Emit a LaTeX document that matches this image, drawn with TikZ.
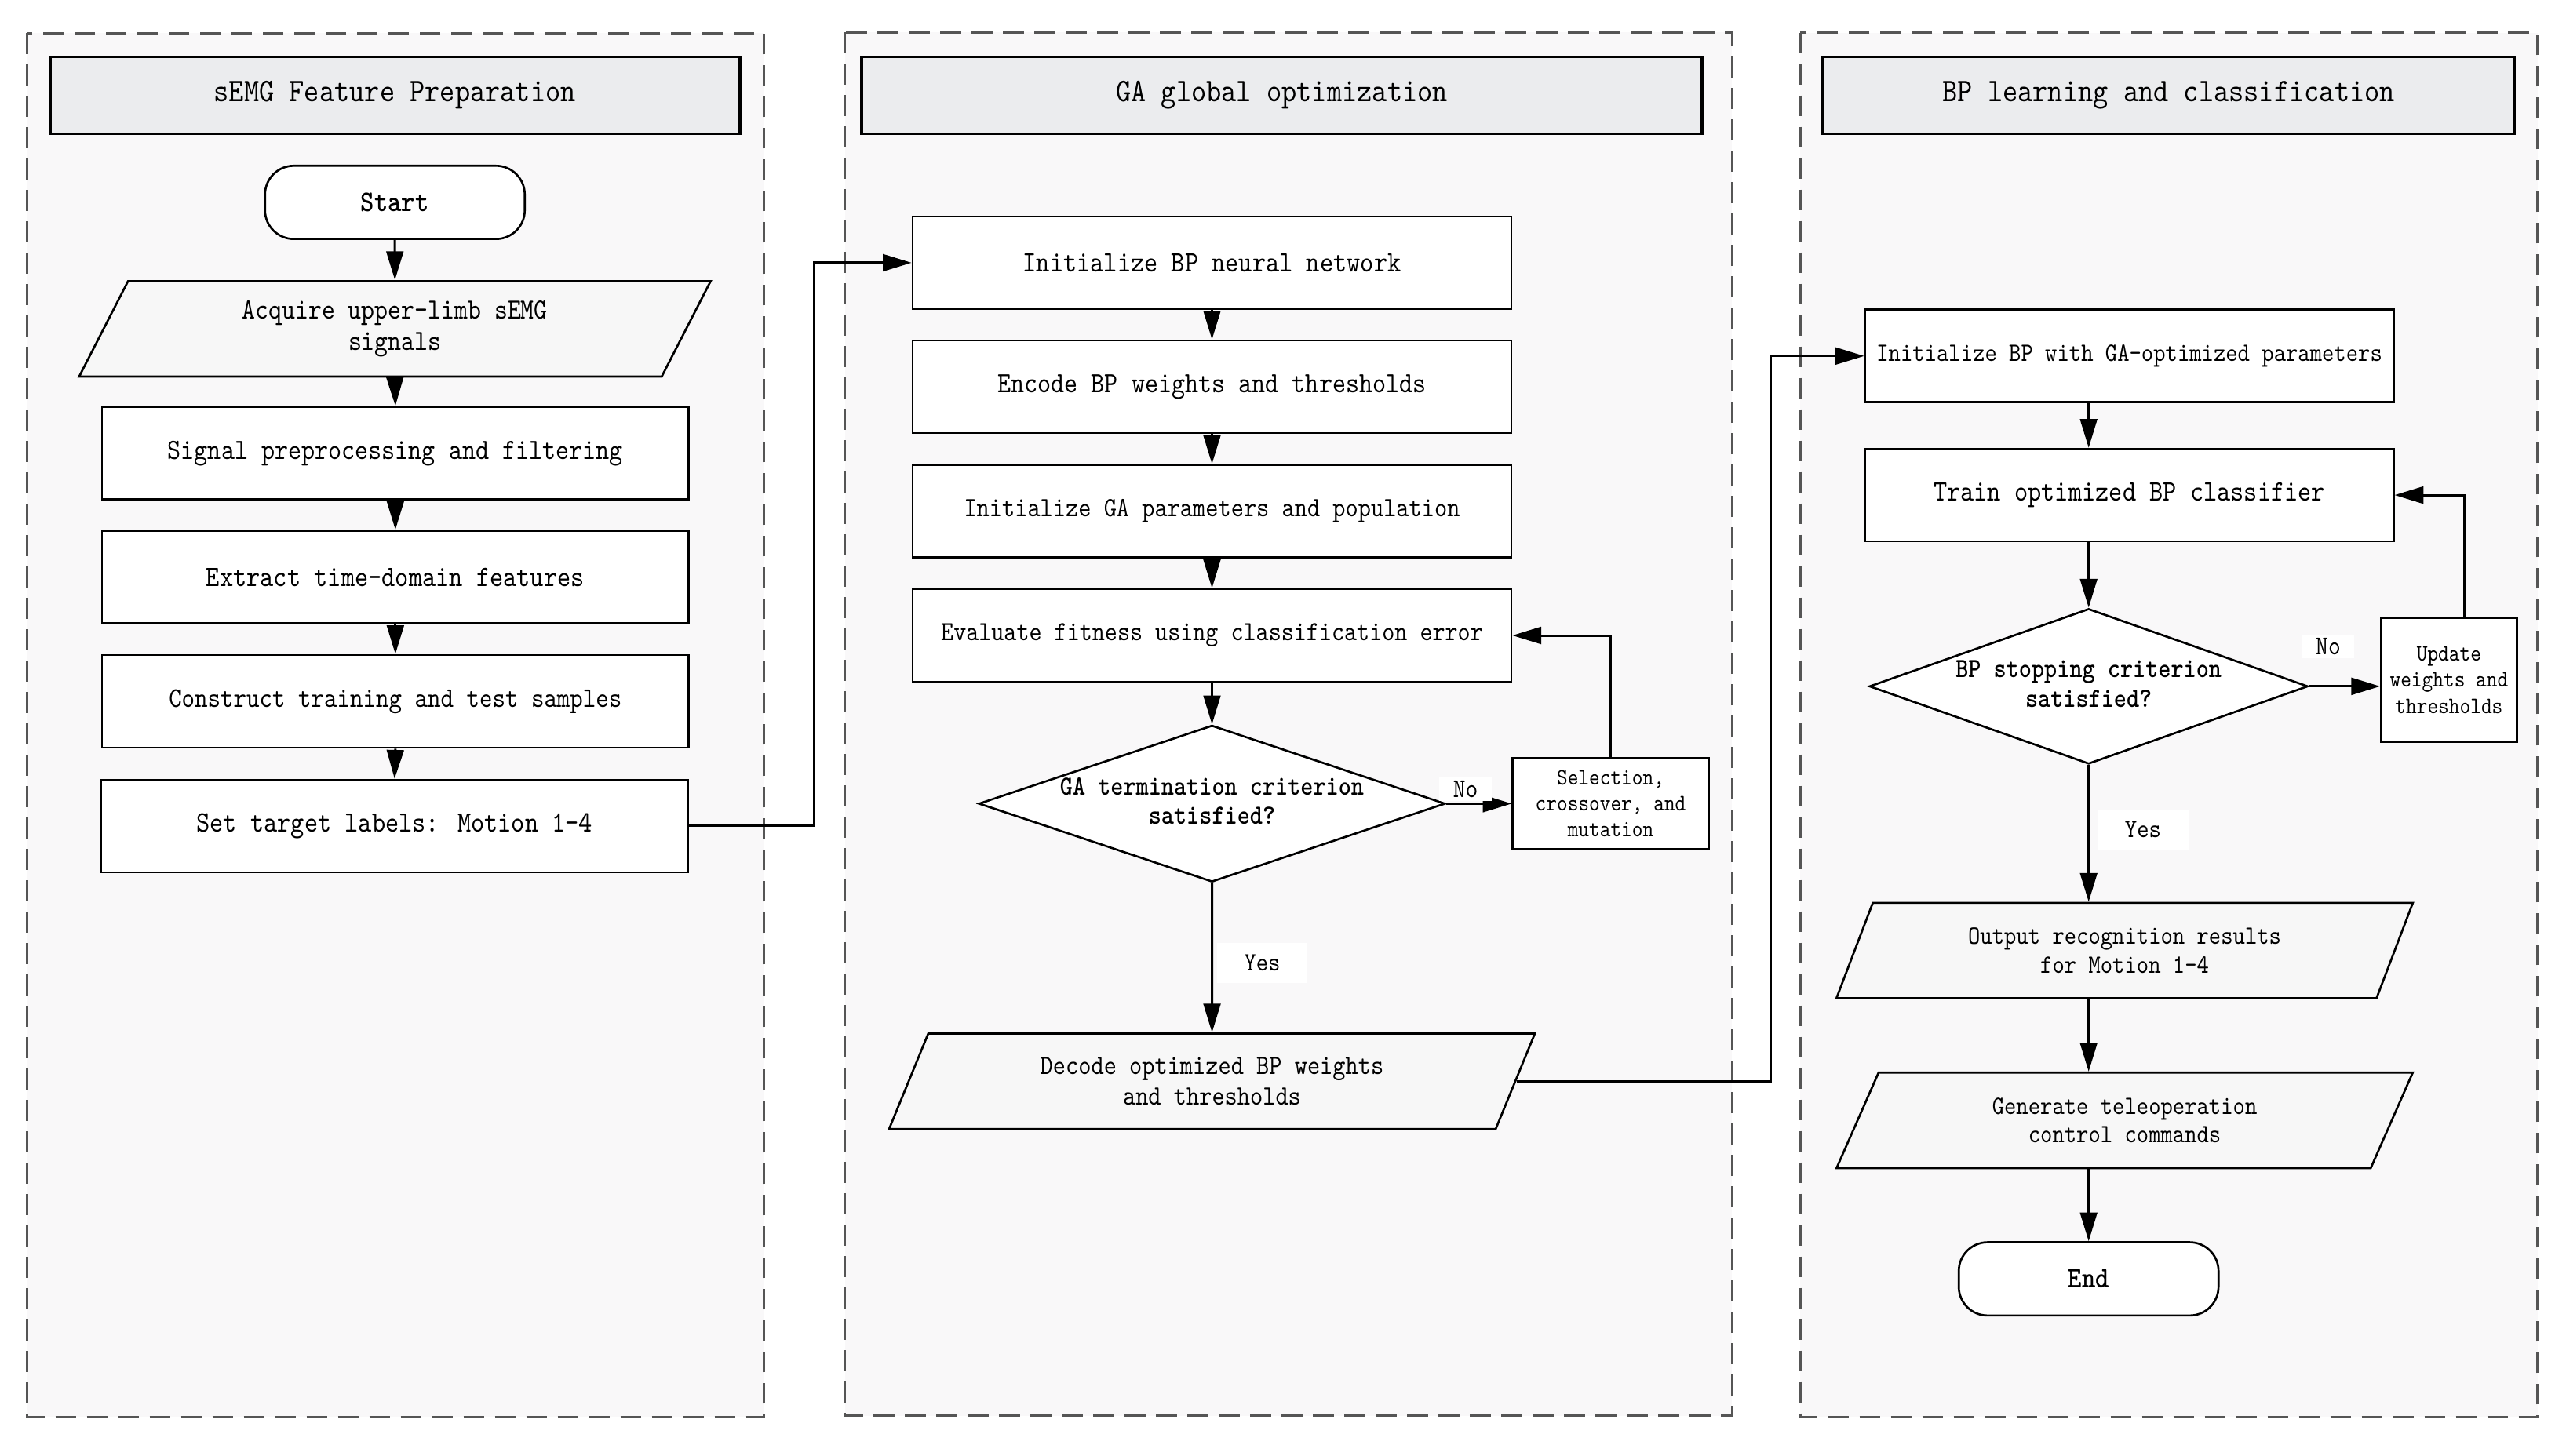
\documentclass[tikz,border=0pt]{standalone}
\usepackage{fontspec}
\setmainfont{lmmono10-regular.otf}[BoldFont=lmmonolt10-bold.otf, FakeStretch=0.87, Scale=0.9419]
\usetikzlibrary{shapes.geometric,arrows.meta,calc}
\definecolor{panelfill}{HTML}{F9F8F9}
\definecolor{headfill}{HTML}{EBECEE}
\definecolor{parafill}{HTML}{F7F7F7}
\definecolor{dashgray}{HTML}{555555}
\newcommand{\setfs}[2]{\fontsize{#1pt}{#2pt}\selectfont}
\tikzset{
  panelbox/.style={draw=dashgray, fill=panelfill, line width=0.9pt, dash pattern=on 8pt off 4pt},
  hdrbox/.style={draw=black, fill=headfill, line width=1.1pt, rectangle, minimum width=#1, minimum height=29.4pt, inner sep=0pt, font=\setfs{13.4}{16}},
  procbox/.style={draw=black, fill=white, line width=0.8pt, rectangle, minimum width=#1, minimum height=35.4pt, inner sep=0pt, align=center},
  iobox/.style={trapezium, trapezium left angle=63.5, trapezium right angle=116.5, trapezium stretches=true, draw=black, fill=parafill, line width=0.8pt, minimum width=#1, minimum height=36.5pt, inner sep=0pt, align=center},
  termbox/.style={rectangle, rounded corners=11pt, draw=black, fill=white, line width=0.8pt, minimum width=99.3pt, minimum height=28pt, inner sep=0pt, font=\bfseries\setfs{12.1}{14}},
  decbox/.style={diamond, draw=black, fill=white, line width=0.8pt, inner sep=0pt, font=\bfseries\setfs{11.25}{11.3}},
  flow/.style={-{Triangle[length=11pt,width=6.5pt]}, line width=0.9pt},
  lbl/.style={fill=white, inner sep=0pt, rectangle}
}
\begin{document}
\begin{tikzpicture}[x=0.62564pt, y=-0.62564pt]
\useasboundingbox (0,0) rectangle (1568,889.5);
\fill[white] (0,0) rectangle (1568,889.5);

% panels
\path[panelbox] (16.5,20.2) rectangle (467,866);
\path[panelbox] (516.4,19.8) rectangle (1058.3,865.5);
\path[panelbox] (1100,20) rectangle (1550.7,866);

% headers
\node[hdrbox=263.7pt] (h1) at (241.3,58.2) {sEMG Feature Preparation};
\node[hdrbox=321.2pt] (h2) at (783.3,58.2) {GA global optimization};
\node[hdrbox=264.4pt] (h3) at (1325.2,58.2) {BP learning and classification};

% panel 1
\node[termbox] (start) at (241.3,123.7) {Start};
\node[iobox=241.6pt, font=\setfs{11.8}{12}] (acq) at (241.3,201) {Acquire upper-limb sEMG\\signals};
\node[procbox=224.3pt, font=\setfs{11.9}{14}] (sig) at (241.6,277) {Signal preprocessing and filtering};
\node[procbox=224.3pt, font=\setfs{12}{14}] (ext) at (241.6,352.7) {Extract time-domain features};
\node[procbox=224.3pt, font=\setfs{11.5}{14}] (con) at (241.6,428.7) {Construct training and test samples};
\node[procbox=224.3pt, font=\setfs{12}{14}] (tgt) at (241.1,504.9) {Set target labels: Motion 1-4};

% panel 2
\node[procbox=228.9pt, font=\setfs{12}{14}] (ib) at (740.6,160.6) {Initialize BP neural network};
\node[procbox=228.9pt, font=\setfs{11.9}{14}] (enc) at (740.6,236.4) {Encode BP weights and thresholds};
\node[procbox=228.9pt, font=\setfs{11.3}{14}] (iga) at (740.6,312.5) {Initialize GA parameters and population};
\node[procbox=228.9pt, font=\setfs{11.2}{14}] (eva) at (740.6,388.4) {Evaluate fitness using classification error};
\node[decbox, minimum width=178.3pt, minimum height=59.9pt, aspect=2.98] (dga) at (740.6,491.2)
  {\makebox[0pt]{\begin{tabular}{@{}c@{}}GA termination criterion\\satisfied?\end{tabular}}};
\node[procbox=74.9pt, minimum height=35pt, font=\setfs{9.55}{10}] (sel) at (984.2,491.2) {Selection,\\crossover, and\\mutation};
\node[iobox=247.3pt, font=\setfs{11.3}{11.6}] (dec) at (740.6,660.9) {Decode optimized BP weights\\and thresholds};

% panel 3
\node[procbox=202pt, font=\setfs{10.7}{14}] (ibga) at (1301.2,217.6) {Initialize BP with GA-optimized parameters};
\node[procbox=202pt, font=\setfs{12}{14}] (trn) at (1301.2,302.6) {Train optimized BP classifier};
\node[decbox, minimum width=167.7pt, minimum height=59.4pt, aspect=2.82] (dbp) at (1276.3,419.5)
  {\makebox[0pt]{\begin{tabular}{@{}c@{}}BP stopping criterion\\satisfied?\end{tabular}}};
\node[procbox=51.9pt, minimum height=47.5pt, font=\setfs{9.55}{10}] (upd) at (1496.5,415.6) {Update\\weights and\\thresholds};
\node[iobox=220.6pt, font=\setfs{10.7}{11}] (out) at (1298.3,581) {Output recognition results\\for Motion 1-4};
\node[iobox=220.6pt, font=\setfs{10.7}{11}] (gen) at (1298.3,684.8) {Generate teleoperation\\control commands};
\node[termbox] (endn) at (1276.3,781.7) {End};

% connectors panel 1
\draw[flow] (start.south) -- (acq.north);
\draw[flow] (acq.south) -- (sig.north);
\draw[flow] (sig.south) -- (ext.north);
\draw[flow] (ext.south) -- (con.north);
\draw[flow] (con.south) -- (tgt.north);
\coordinate (j1) at (497.3,504.9);
\draw[flow] (tgt.east) -- (tgt.east -| j1) |- (ib.west);

% connectors panel 2
\draw[flow] (ib.south) -- (enc.north);
\draw[flow] (enc.south) -- (iga.north);
\draw[flow] (iga.south) -- (eva.north);
\draw[flow] (eva.south) -- (dga.north);
\draw[flow] (dga.east) -- (sel.west);
\draw[flow] (sel.north) |- (eva.east);
\draw[flow] (dga.south) -- (dec.north);
\coordinate (j2) at (1082,660.9);
\draw[flow] (dec.east) -- (dec.east -| j2) |- (ibga.west);

% connectors panel 3
\draw[flow] (ibga.south -| dbp.north) -- (trn.north -| dbp.north);
\draw[flow] (trn.south -| dbp.north) -- (dbp.north);
\draw[flow] (dbp.east) -- (upd.west |- dbp.east);
\draw[flow] ([xshift=6pt]upd.north) |- (trn.east);
\draw[flow] (dbp.south) -- (out.north -| dbp.south);
\draw[flow] (out.south -| dbp.south) -- (gen.north -| dbp.south);
\draw[flow] (gen.south -| endn.north) -- (endn.north);

% labels
\node[lbl, minimum width=20pt, minimum height=9pt, font=\setfs{11}{12}] (no1) at (895.5,482.3) {No};
\node[lbl, minimum width=34.6pt, minimum height=15.3pt, font=\setfs{10.7}{12}] (yes1) at (771.3,588.6) {Yes};
\node[lbl, minimum width=20pt, minimum height=9pt, font=\setfs{11}{12}] (no2) at (1422.7,395) {No};
\node[lbl, minimum width=35pt, minimum height=15.5pt, font=\setfs{10.7}{12}] (yes2) at (1309.5,507) {Yes};
\end{tikzpicture}
\end{document}
